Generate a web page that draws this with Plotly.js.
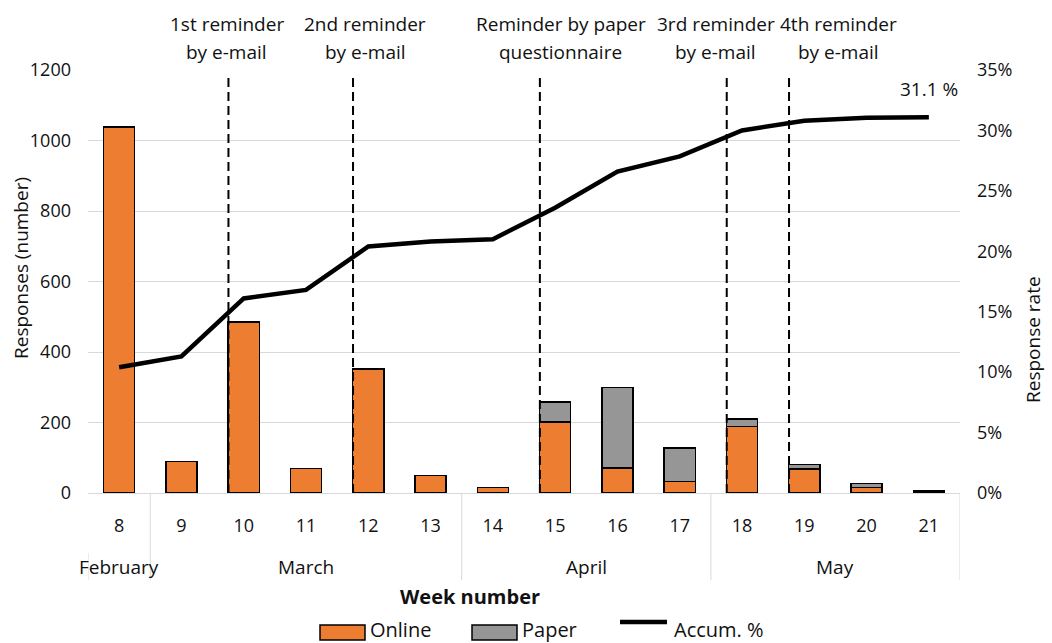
<!DOCTYPE html>
<html>
<head>
<meta charset="utf-8">
<script src="https://cdn.plot.ly/plotly-3.0.1.min.js"></script>
<style>html,body{margin:0;padding:0;background:#fff;}#chart{width:1052px;height:643px;}</style>
</head>
<body>
<div id="chart"></div>
<script>
// ---- data ----
const weeks = [8, 9, 10, 11, 12, 13, 14, 15, 16, 17, 18, 19, 20, 21];
const online = [1038, 90, 485, 70, 352, 50, 16, 202, 71, 33, 189, 68, 16, 3];
const paper = [0, 0, 0, 0, 0, 0, 0, 56, 229, 95, 21, 13, 11, 2];
const accumPct = [10.4, 11.3, 16.1, 16.8, 20.4, 20.8, 21.0, 23.6, 26.6, 27.85, 30.0, 30.8, 31.05, 31.1];
const monthNames = ["February", "March", "April", "May"];
const monthFirstWeek = [8, 9, 14, 18];
const monthLastWeek = [8, 13, 17, 21];
const reminderWeeks = [10, 12, 15, 18, 19];
const reminderLabels = ["1st reminder\nby e-mail", "2nd reminder\nby e-mail", "Reminder by paper\nquestionnaire", "3rd reminder\nby e-mail", "4th reminder\nby e-mail"];
const finalLabel = "31.1 %";
const seriesNames = ["Online", "Paper", "Accum. %"];

// ---- styles ----
const FONT = "Open Sans, sans-serif";
const TXT = "#111111";
const ORANGE = "#ED7D31";
const GRAY = "#969696";
const GRID = "#d9d9d9";
const labelOffsets = [-0.27, -0.05, 0.09, -0.42, 0.55];

const traces = [
  {type: "bar", name: seriesNames[0], x: weeks, y: online,
   marker: {color: ORANGE, line: {color: "#000", width: 1.5}}, hoverinfo: "skip"},
  {type: "bar", name: seriesNames[1], x: weeks, y: paper,
   marker: {color: GRAY, line: {color: "#000", width: 1.5}}, hoverinfo: "skip"},
  {type: "scatter", mode: "lines", name: seriesNames[2], x: weeks, y: accumPct.map(v => v / 100),
   yaxis: "y2", line: {color: "#000", width: 4.5}, hoverinfo: "skip"}
];

const shapes = [];
const annotations = [];

// reminder dashed lines + labels
reminderWeeks.forEach((w, i) => {
  shapes.push({type: "line", xref: "x", yref: "y", x0: w - 0.245, x1: w - 0.245, y0: 0, y1: 1190,
    line: {color: "#000", width: 2, dash: "9px,5px"}, layer: "above"});
  const parts = reminderLabels[i].split("\n");
  parts.forEach((p, j) => {
    annotations.push({xref: "x", yref: "paper", x: w + labelOffsets[i], y: j === 0 ? 1.108 : 1.042,
      text: p, showarrow: false, xanchor: "center", yanchor: "middle",
      font: {family: FONT, size: 19, color: TXT}});
  });
});

// month group dividers and labels
const pxToPaperY = px => (493 - px) / 423;
monthNames.forEach((m, i) => {
  annotations.push({xref: "x", yref: "paper", x: (monthFirstWeek[i] + monthLastWeek[i]) / 2, y: pxToPaperY(567),
    text: m, showarrow: false, xanchor: "center", yanchor: "middle",
    font: {family: FONT, size: 19, color: TXT}});
  const xd = monthFirstWeek[i] - 0.5;
  shapes.push({type: "line", xref: "x", yref: "paper", x0: xd, x1: xd,
    y0: i === 0 ? pxToPaperY(553) : 0, y1: pxToPaperY(580), line: {color: GRID, width: 1}});
});
const lastX = monthLastWeek[monthLastWeek.length - 1] + 0.5;
shapes.push({type: "line", xref: "x", yref: "paper", x0: lastX, x1: lastX, y0: 0, y1: pxToPaperY(580),
  line: {color: GRID, width: 1}});

// axis titles
annotations.push({xref: "paper", yref: "paper", x: (470 - 88) / 872, y: pxToPaperY(596), text: "<b>Week number</b>",
  showarrow: false, xanchor: "center", yanchor: "middle", font: {family: FONT, size: 20, color: TXT}});
annotations.push({xref: "paper", yref: "paper", x: (21 - 88) / 872, y: pxToPaperY(268), text: "Responses (number)",
  textangle: -90, showarrow: false, xanchor: "center", yanchor: "middle", font: {family: FONT, size: 19, color: TXT}});
annotations.push({xref: "paper", yref: "paper", x: (1033 - 88) / 872, y: pxToPaperY(340), text: "Response rate",
  textangle: -90, showarrow: false, xanchor: "center", yanchor: "middle", font: {family: FONT, size: 19, color: TXT}});
annotations.push({xref: "paper", yref: "paper", x: 1, y: pxToPaperY(89), text: finalLabel,
  showarrow: false, xanchor: "right", yanchor: "middle", font: {family: FONT, size: 19, color: TXT}});

// manual legend
const pxToPaperX = px => (px - 88) / 872;
const legendItems = [
  {kind: "box", color: ORANGE, x0: 320, x1: 365, tx: 368},
  {kind: "box", color: GRAY, x0: 472, x1: 517, tx: 520},
  {kind: "line", color: "#000", x0: 620, x1: 667, tx: 672}
];
legendItems.forEach((it, i) => {
  if (it.kind === "box") {
    shapes.push({type: "rect", xref: "paper", yref: "paper", x0: pxToPaperX(it.x0), x1: pxToPaperX(it.x1),
      y0: pxToPaperY(625), y1: pxToPaperY(640), fillcolor: it.color, line: {color: "#000", width: 1.5}});
  } else {
    shapes.push({type: "line", xref: "paper", yref: "paper", x0: pxToPaperX(it.x0), x1: pxToPaperX(it.x1),
      y0: pxToPaperY(622), y1: pxToPaperY(622), line: {color: "#000", width: 4.5}});
  }
  annotations.push({xref: "paper", yref: "paper", x: pxToPaperX(it.tx), y: pxToPaperY(629), text: seriesNames[i],
    showarrow: false, xanchor: "left", yanchor: "middle", font: {family: FONT, size: 20, color: TXT}});
});

const layout = {
  width: 1052, height: 643,
  margin: {l: 88, r: 92, t: 70, b: 150, pad: 0},
  paper_bgcolor: "#fff", plot_bgcolor: "#fff",
  barmode: "stack", bargap: 0.5,
  showlegend: false,
  font: {family: FONT, color: TXT},
  xaxis: {type: "linear", range: [7.5, 21.5], tickvals: weeks, ticktext: weeks.map(String),
    showgrid: false, zeroline: false, showline: true, linecolor: GRID, linewidth: 1,
    ticks: "", ticklabelstandoff: 16, tickfont: {family: FONT, size: 18, color: TXT}, fixedrange: true},
  yaxis: {range: [0, 1200], dtick: 200, showgrid: true, gridcolor: GRID, gridwidth: 1, zeroline: false,
    showline: false, ticks: "", ticklabelstandoff: 16, tickfont: {family: FONT, size: 18, color: TXT}},
  yaxis2: {range: [0, 0.35], dtick: 0.05, tickformat: ".0%", overlaying: "y", side: "right",
    showgrid: false, zeroline: false, showline: false, ticks: "", ticklabelstandoff: 16,
    tickfont: {family: FONT, size: 18, color: TXT}},
  shapes: shapes,
  annotations: annotations
};

Plotly.newPlot("chart", traces, layout, {displayModeBar: false, staticPlot: true});
</script>
</body>
</html>
